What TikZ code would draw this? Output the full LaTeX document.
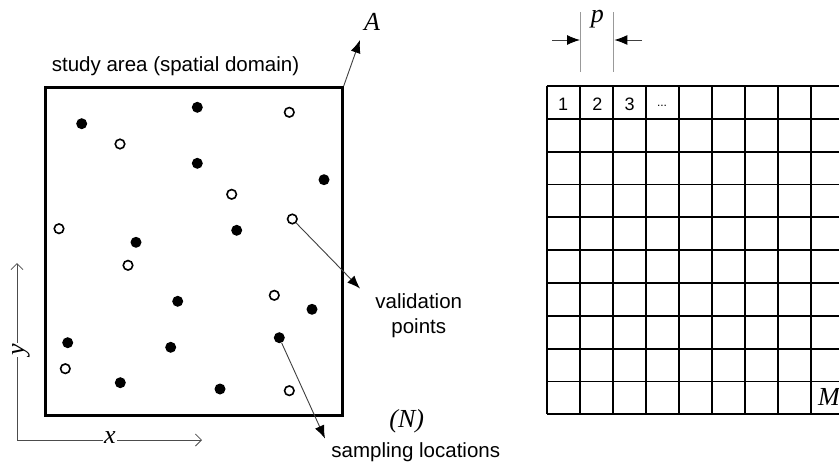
\documentclass[tikz,border=0pt]{standalone}
\usepackage{fontspec}
\setmainfont{Liberation Sans}
\newfontfamily\serifit{Liberation Serif}
\usetikzlibrary{arrows.meta}
\begin{document}
\begin{tikzpicture}[x=1pt,y=-1pt,
  fdot/.style={circle,fill=black,inner sep=0pt,minimum size=11pt},
  odot/.style={circle,draw=black,line width=1.6pt,fill=white,inner sep=0pt,minimum size=9.5pt},
  lbl/.style={font=\fontsize{20.5}{24.5}\selectfont,align=center,inner sep=0pt},
  numlbl/.style={font=\fontsize{18}{20}\selectfont,inner sep=0pt},
  mathlbl/.style={font=\serifit\itshape\fontsize{26}{28}\selectfont,inner sep=0pt},
  ptr/.style={draw=black!75,line width=0.9pt,-{Latex[length=13pt,width=10pt,color=black]}},
  axis/.style={draw=black!70,line width=0.8pt,-{Straight Barb[length=6pt,width=12pt]}},
  dimline/.style={draw=black!40,line width=1.2pt},
  gridline/.style={draw=black,line width=1.9pt}
]
\useasboundingbox (0,0) rectangle (839,463);
\fill[white] (0,0) rectangle (839,463);

% study area
\node[draw=black,line width=3pt,minimum width=296.4pt,minimum height=328.3pt,inner sep=0pt,anchor=north west] (area) at (44.3,86) {};
\node[lbl] (title) at (175.5,66.5) {study area (spatial domain)};
\coordinate (Atip) at (360,40);
\draw[ptr] (area.north east) -- (Atip);
\node[mathlbl] (A) at (372,21.5) {A};

% sampling points (filled)
\node[fdot] (f1) at (81.7,123.7) {};
\node[fdot] (f2) at (197.3,107.3) {};
\node[fdot] (f3) at (197.3,163.3) {};
\node[fdot] (f4) at (324,179.7) {};
\node[fdot] (f5) at (236.7,230.3) {};
\node[fdot] (f6) at (136,242.3) {};
\node[fdot] (f7) at (177.7,301.3) {};
\node[fdot] (f8) at (312,309.3) {};
\node[fdot] (f9) at (67.7,342.7) {};
\node[fdot] (f10) at (170.7,347.3) {};
\node[fdot] (f11) at (279.3,337.7) {};
\node[fdot] (f12) at (120.3,382.7) {};
\node[fdot] (f13) at (220,389) {};

% validation points (open)
\node[odot] (o1) at (289.3,112.3) {};
\node[odot] (o2) at (120,144) {};
\node[odot] (o3) at (231.7,194.3) {};
\node[odot] (o4) at (292.3,219) {};
\node[odot] (o5) at (59,228.7) {};
\node[odot] (o6) at (128,265.3) {};
\node[odot] (o7) at (274.3,295.3) {};
\node[odot] (o8) at (65.3,368.7) {};
\node[odot] (o9) at (289.3,390.7) {};

% labels with pointers
\coordinate (vtip) at (360,288.5);
\draw[ptr] (o4) -- (vtip);
\node[lbl] (vlbl) at (418.8,315.5) {validation\\points};
\coordinate (stip) at (325,438.5);
\draw[ptr] (f11) -- (stip);
\node[mathlbl] (N) at (406.7,421) {(N)};
\node[lbl] (slbl) at (415.8,452.5) {sampling locations};

% axes
\coordinate (origin) at (17,440);
\coordinate (ytip) at (17,263);
\coordinate (xtip) at (202,440);
\draw[axis] (origin) -- (ytip);
\draw[axis] (origin) -- (xtip);
\node[mathlbl,fill=white,inner sep=1pt] (xl) at (110,438) {x};
\node[mathlbl,fill=white,inner sep=1pt,rotate=90] (yl) at (21,350) {y};

% grid
\begin{scope}
\clip (540,80) rectangle (839,420);
\foreach \i in {0,...,10} {
  \draw[gridline] (546.7,86+32.83*\i) -- (850,86+32.83*\i);
}
\foreach \j in {0,...,9} {
  \draw[gridline] (546.7+33*\j,86) -- (546.7+33*\j,414.3);
}
\end{scope}
\node[numlbl] (c1) at (563.2,104.5) {1};
\node[numlbl] (c2) at (597.3,104.5) {2};
\node[numlbl] (c3) at (629.7,104.5) {3};
\node[font=\fontsize{12}{14}\selectfont,inner sep=0pt] (c4) at (662,106) {...};
\node[mathlbl] (M) at (829,397) {M};

% pixel size p
\coordinate (pl) at (580.7,12);
\coordinate (plb) at (580.7,72);
\coordinate (pr) at (613.7,12);
\coordinate (prb) at (613.7,72);
\draw[dimline] (pl) -- (plb);
\draw[dimline] (pr) -- (prb);
\coordinate (pla) at (552,40);
\coordinate (pra) at (642,40);
\coordinate (plt) at (580,40);
\coordinate (prt) at (614.4,40);
\draw[ptr] (pla) -- (plt);
\draw[ptr] (pra) -- (prt);
\node[mathlbl] (p) at (597.3,19) {p};
\end{tikzpicture}
\end{document}
